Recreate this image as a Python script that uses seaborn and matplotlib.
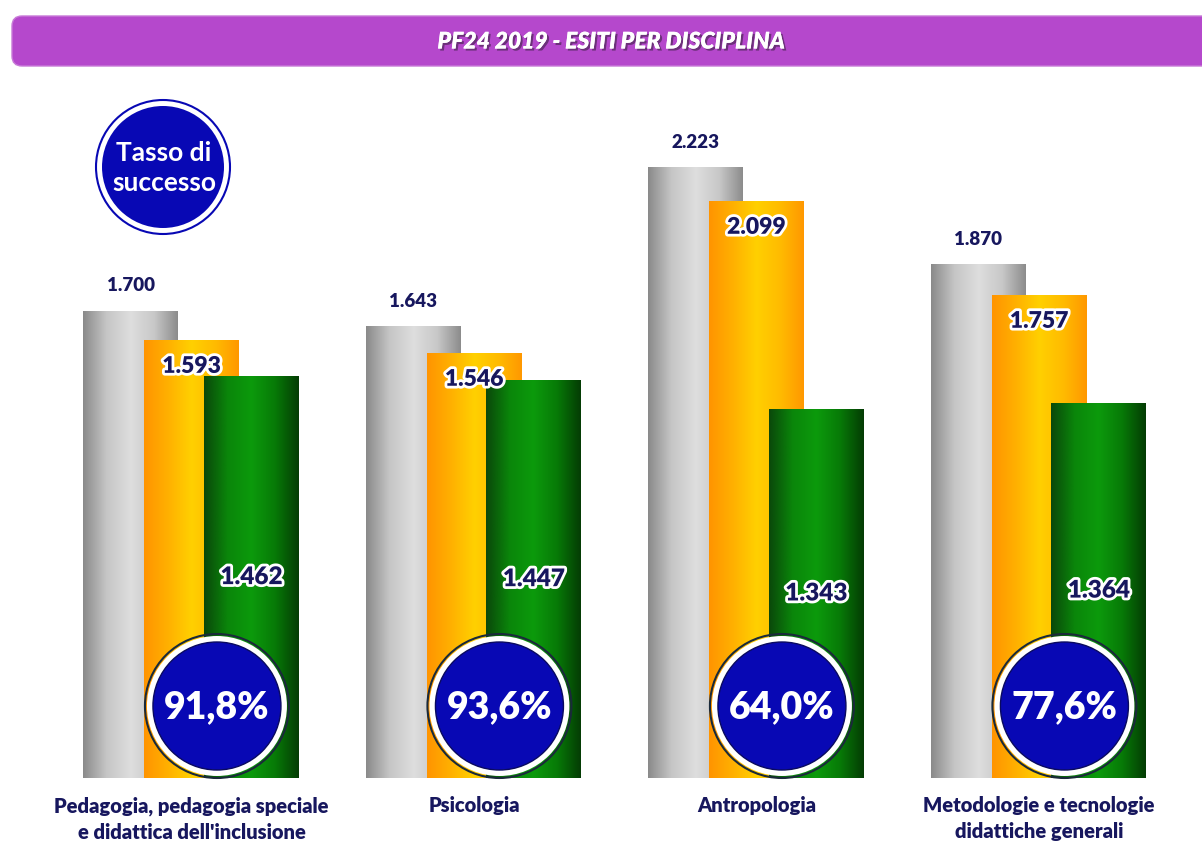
import numpy as np
import pandas as pd
import seaborn as sns
from matplotlib import pyplot as plt
from matplotlib import patches
from matplotlib import patheffects as pe
from matplotlib.colors import LinearSegmentedColormap

sns.set_theme(style="white")
plt.rcParams["font.family"] = ["Lato", "DejaVu Sans"]

# data
categorie = ["Pedagogia, pedagogia speciale\ne didattica dell'inclusione",
             "Psicologia",
             "Antropologia",
             "Metodologie e tecnologie\ndidattiche generali"]
iscritti = [1700, 1643, 2223, 1870]
presenti = [1593, 1546, 2099, 1757]
superati = [1462, 1447, 1343, 1364]
tasso = ["91,8%", "93,6%", "64,0%", "77,6%"]

def fmt(v):
    return f"{v:,}".replace(",", ".")

navy = "#17175e"
blue = "#0808b4"

fig = plt.figure(figsize=(12.02, 8.5), dpi=100)
ax = fig.add_axes([0, 72 / 850, 1, 698 / 850])

# gradients left -> right for each series
grad_gray = LinearSegmentedColormap.from_list("g", ["#8a8a8a", "#c6c6c6", "#dedede", "#c8c8c8", "#8c8c8c"])
grad_orange = LinearSegmentedColormap.from_list("o", ["#ff9400", "#ffb000", "#ffd000", "#ffbb00", "#ff9800"])
grad_green = LinearSegmentedColormap.from_list("v", ["#0a480a", "#0a860a", "#0c9a0c", "#077a07", "#043c04"])

serie = [(iscritti, -0.216, "#bbbbbb", grad_gray),
         (presenti, 0.0, "#ffb400", grad_orange),
         (superati, 0.212, "#0a880a", grad_green)]

pos = np.arange(len(categorie))
grad = np.linspace(0, 1, 256).reshape(1, -1)
for vals, off, col, cmap in serie:
    n0 = len(ax.patches)
    sns.barplot(x=pos + off, y=vals, native_scale=True, width=0.336,
                color=col, saturation=1, linewidth=0, ax=ax)
    for p in ax.patches[n0:]:
        x0, w, h = p.get_x(), p.get_width(), p.get_height()
        im = ax.imshow(grad, cmap=cmap, aspect="auto", extent=[x0, x0 + w, 0, h],
                       zorder=p.get_zorder() + 0.01 * n0)
        im.set_clip_path(p)
        p.set_zorder(p.get_zorder() + 0.01 * n0)

ax.set_xlim(-0.678, 3.577)
ax.set_ylim(0, 2540)
ax.axis("off")

stroke = [pe.withStroke(linewidth=4, foreground="white")]
for i in range(len(categorie)):
    ax.text(i - 0.216, iscritti[i] + 60, fmt(iscritti[i]), ha="center", va="bottom",
            fontsize=13.5, fontweight="heavy", color=navy, zorder=20)
    ax.text(i, presenti[i] - 95, fmt(presenti[i]), ha="center", va="center",
            fontsize=16.5, fontweight="heavy", color=navy, path_effects=stroke, zorder=20)
    ax.text(i + 0.212, superati[i] / 2, fmt(superati[i]), ha="center", va="center",
            fontsize=17.5, fontweight="heavy", color=navy, path_effects=stroke, zorder=20)

# overlay in pixel coordinates
ov = fig.add_axes([0, 0, 1, 1], zorder=5)
ov.set_xlim(0, 1202)
ov.set_ylim(850, 0)
ov.axis("off")
ov.patch.set_alpha(0)

def px(x, y):
    dx, dy = ax.transData.transform((x, y))
    return dx, 850 - dy

# title banner
ov.add_patch(patches.FancyBboxPatch((12, 16), 1200, 50, boxstyle="round,pad=0,rounding_size=10",
                                    facecolor="#b548cc", edgecolor="#c87ad8", linewidth=1))
ov.text(611, 42, "PF24 2019 - ESITI PER DISCIPLINA", ha="center", va="center", fontsize=16.5,
        fontweight="heavy", fontstyle="italic", color="white",
        path_effects=[pe.withSimplePatchShadow(offset=(1.5, -1.5), shadow_rgbFace="#5a2a66", alpha=0.8), pe.Normal()])

# legend circle
ov.add_patch(patches.Circle((163, 167), 67, facecolor="white", edgecolor=blue, linewidth=1.5))
ov.add_patch(patches.Circle((163, 167), 61, facecolor=blue, edgecolor="none"))
ov.text(164, 168, "Tasso di\nsuccesso", ha="center", va="center", fontsize=19,
        fontweight="bold", color="white", linespacing=1.3)

for i in range(len(categorie)):
    cx, _ = px(i + 0.09, 0)
    ov.add_patch(patches.Circle((cx, 706), 72, facecolor="none", edgecolor="#1a2a3a", linewidth=1.5))
    ov.add_patch(patches.Circle((cx, 706), 70, facecolor="white", edgecolor="none"))
    ov.add_patch(patches.Circle((cx, 706), 64, facecolor=blue, edgecolor="#0a0a60", linewidth=1))
    ov.text(cx, 707, tasso[i], ha="center", va="center", fontsize=27,
            fontweight="heavy", color="white")
    lx, _ = px(i, 0)
    ov.text(lx, 796, categorie[i], ha="center", va="top", fontsize=14.5,
            fontweight="heavy", color=navy, linespacing=1.45)

fig.savefig("out.png", dpi=100)
